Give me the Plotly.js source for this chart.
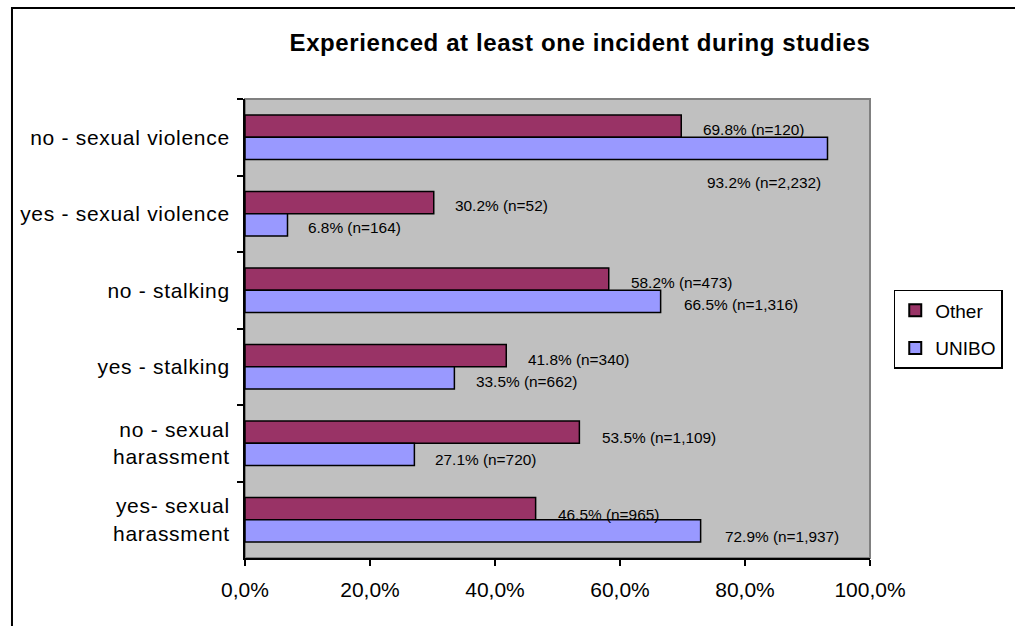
<!DOCTYPE html>
<html>
<head>
<meta charset="utf-8">
<script src="https://cdn.plot.ly/plotly-3.0.1.min.js"></script>
<style>
  html, body { margin: 0; padding: 0; background: #fff; }
  #chart { width: 1015px; height: 626px; }
  #chart .gtitle { letter-spacing: 0.6px; }
  #chart .ytick text { letter-spacing: 0.7px; }
</style>
</head>
<body>
<div id="chart"></div>
<script>
// ---- data ----
const categories = ["no - sexual violence", "yes - sexual violence", "no - stalking", "yes - stalking", "no - sexual<br>harassment", "yes- sexual<br>harassment"];
const otherPct = [69.8, 30.2, 58.2, 41.8, 53.5, 46.5];
const otherN = [120, 52, 473, 340, 1109, 965];
const uniboPct = [93.2, 6.8, 66.5, 33.5, 27.1, 72.9];
const uniboN = [2232, 164, 1316, 662, 720, 1937];
const xTickVals = [0, 20, 40, 60, 80, 100];
const xTickText = ["0,0%", "20,0%", "40,0%", "60,0%", "80,0%", "100,0%"];

// ---- label placement (layout, not data) ----
const otherLabelX = [73.0, 33.2, 61.5, 44.9, 56.8, 49.7];
const otherLabelDy = [-8, -8, -7.5, -7, -5.5, -5];
const uniboLabelX = [73.6, 9.7, 69.9, 36.6, 30.1, 76.4];
const uniboLabelDy = [45.5, 14, 14, 15, 16.5, 17];

const FONT = "Liberation Sans, Arial, sans-serif";
const fmt = (p, n) => p.toFixed(1) + "% (n=" + n.toLocaleString("en-US") + ")";

const traces = [
  {
    type: "bar", orientation: "h", name: "Other", legendgroup: "a",
    y: categories, x: otherPct,
    marker: { color: "#993366", line: { color: "#000", width: 1.5 } },
    hoverinfo: "skip"
  },
  {
    type: "bar", orientation: "h", name: "UNIBO", legendgroup: "b",
    y: categories, x: uniboPct,
    marker: { color: "#9999FF", line: { color: "#000", width: 1.5 } },
    hoverinfo: "skip"
  }
];

const annotations = [];
categories.forEach((c, i) => {
  annotations.push({
    xref: "x", yref: "y", x: otherLabelX[i], y: c, yshift: -otherLabelDy[i],
    xanchor: "left", yanchor: "middle", showarrow: false,
    text: fmt(otherPct[i], otherN[i]),
    font: { family: FONT, size: 15.4, color: "#000" }
  });
  annotations.push({
    xref: "x", yref: "y", x: uniboLabelX[i], y: c, yshift: -uniboLabelDy[i],
    xanchor: "left", yanchor: "middle", showarrow: false,
    text: fmt(uniboPct[i], uniboN[i]),
    font: { family: FONT, size: 15.4, color: "#000" }
  });
});

const layout = {
  width: 1015, height: 626,
  margin: { l: 245, r: 137, t: 99, b: 68, pad: 0 },
  paper_bgcolor: "#fff",
  plot_bgcolor: "#C0C0C0",
  font: { family: FONT, color: "#000" },
  title: {
    text: "<b>Experienced at least one incident during studies</b>",
    font: { family: FONT, size: 24, color: "#000" },
    xref: "container", yref: "container",
    x: 580 / 1015, xanchor: "center", y: 1 - 43 / 626, yanchor: "middle"
  },
  barmode: "group",
  bargap: 0.42,
  bargroupgap: 0,
  showlegend: true,
  legend: {
    x: 1.038, xanchor: "left", y: 0.584, yanchor: "top",
    bgcolor: "#fff", bordercolor: "#000", borderwidth: 1.5,
    font: { family: FONT, size: 19, color: "#000" },
    traceorder: "grouped", tracegroupgap: 10, itemsizing: "constant",
    itemwidth: 30
  },
  xaxis: {
    range: [0, 100], autorange: false, tickvals: xTickVals, ticktext: xTickText,
    ticks: "outside", ticklen: 6, tickwidth: 2, tickcolor: "#000",
    showline: true, linecolor: "#000", linewidth: 2,
    showgrid: false, zeroline: false, fixedrange: true,
    ticklabelstandoff: 6,
    tickfont: { family: FONT, size: 21, color: "#000" }
  },
  yaxis: {
    type: "category", range: [5.5, -0.5], autorange: false,
    ticks: "outside", tickson: "boundaries", ticklen: 6, tickwidth: 2, tickcolor: "#000",
    showline: true, linecolor: "#000", linewidth: 2,
    showgrid: false, zeroline: false, fixedrange: true,
    ticklabelstandoff: 9,
    tickfont: { family: FONT, size: 21, color: "#000" }
  },
  shapes: [
    { type: "rect", xref: "paper", yref: "paper", x0: 0, x1: 1, y0: 0, y1: 1,
      line: { color: "#808080", width: 2 }, fillcolor: "rgba(0,0,0,0)", layer: "below" },
    { type: "rect", xref: "paper", yref: "paper",
      x0: (9 - 245) / 633, x1: (1100 - 245) / 633, y0: (558 - 700) / 459, y1: (558 - 8) / 459,
      line: { color: "#000", width: 2 }, fillcolor: "rgba(0,0,0,0)", layer: "above" }
  ],
  annotations: annotations
};

Plotly.newPlot("chart", traces, layout, { displayModeBar: false, staticPlot: true });
</script>
</body>
</html>
